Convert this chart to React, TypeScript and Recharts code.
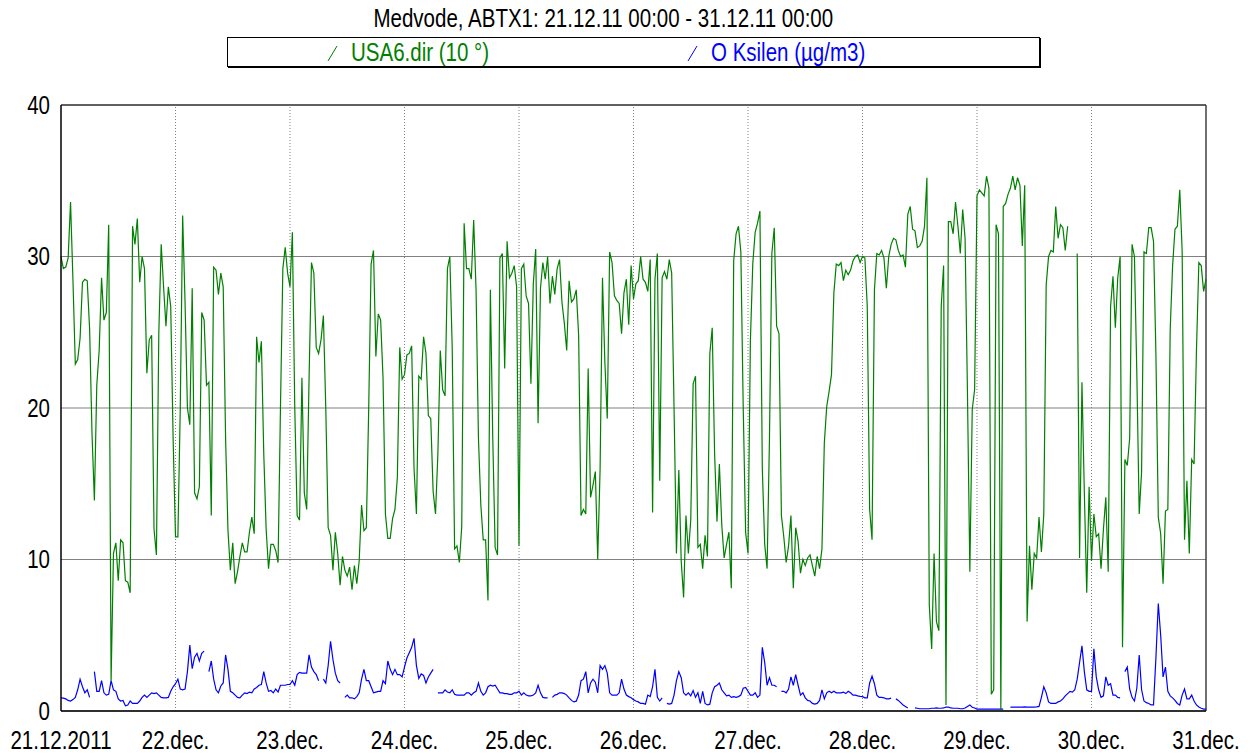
import { LineChart, Line, XAxis, YAxis, CartesianGrid, ReferenceLine, Legend } from "recharts";

const FONT = '"Liberation Sans", Arial, sans-serif';
// the reference uses a narrow face; squeeze a regular one instead
const SQUEEZE = 0.82;

const title = "Medvode, ABTX1: 21.12.11 00:00 - 31.12.11 00:00";
const dirName = "USA6.dir (10 °)";
const xylName = "O Ksilen (µg/m3)";

const dayLabels = ["21.12.2011", "22.dec.", "23.dec.", "24.dec.", "25.dec.", "26.dec.", "27.dec.", "28.dec.", "29.dec.", "30.dec.", "31.dec."];
const yTicks = [0, 10, 20, 30, 40];

// wind direction (10 deg units), half-hourly, one list per day
const dir21 = [30, 29.2, 29.3, 29.9, 33.6, 28.5, 22.9, 23.2, 24.6, 28.3, 28.5, 28.4, 25.2, 18.3, 13.9, 21.5, 23.8, 28.6, 25.8, 26.3, 32.1, 2, 10.4, 11.1, 8.6, 11.3, 11.1, 8.6, 8.5, 7.8, 32, 30.8, 32.5, 28.3, 30, 29.2, 22.3, 24.5, 24.8, 12, 10.3, 24.9, 30.8, 28, 25.4, 28, 26.7, 18];
const dir22 = [11.5, 11.5, 20, 32.7, 27, 20, 18.9, 27.9, 14.4, 14, 14.8, 26.3, 25.8, 21.5, 21.7, 12.9, 29.3, 29.1, 27.5, 28.9, 28, 18, 11.9, 9.3, 11.1, 8.4, 9.2, 10.2, 11.1, 10.5, 10.5, 11.8, 12.8, 11.7, 24.7, 23, 24.4, 17, 12, 9.4, 11, 11, 10.6, 9.8, 20, 29.2, 30.6, 28.9];
const dir23 = [28, 31.6, 20, 12.9, 12.6, 22, 14.4, 13.3, 22, 29.6, 28.9, 24, 23.6, 24.5, 26.1, 20, 12.1, 11.6, 9.3, 11.8, 10.4, 8.3, 10.2, 9.3, 8.9, 9.5, 8, 9.6, 8.4, 9.9, 13.6, 11.9, 12.1, 20, 29.5, 30.4, 23.4, 26.2, 25.8, 22, 13, 11.4, 11.4, 12.7, 13.3, 15.4, 24, 21.9];
const dir24 = [22.2, 23.5, 23.6, 24.1, 16, 13, 22.1, 21.9, 24.7, 23.6, 19.5, 19.3, 14.5, 13, 17, 23.8, 21.2, 20.8, 29.2, 30, 24, 10.7, 10.9, 9.8, 12.2, 32.2, 29.2, 29.2, 28.5, 32.4, 27.8, 18, 13.6, 11.3, 11.3, 7.3, 27.8, 18, 10.8, 10.3, 29.9, 30.2, 22.6, 31, 28.6, 28.9, 29.4, 28];
const dir25 = [10.9, 29.2, 29.5, 27.4, 26.9, 21.6, 28.2, 30.5, 19, 27.9, 29.6, 28.5, 30, 26.9, 28.7, 27.5, 29.2, 29.8, 27, 25.6, 23.8, 28.4, 27, 27.2, 27.8, 24.8, 12.9, 13.3, 13, 22.6, 14.1, 14.9, 15.8, 10, 16, 28.6, 23, 19.3, 30.3, 29.6, 27.4, 27.1, 26.9, 24.9, 27.6, 28.5, 25.5, 29.4];
const dir26 = [27.2, 28.2, 28.4, 30, 28.5, 28.3, 27.7, 29.8, 13.1, 28.5, 30.2, 15.2, 28.6, 29, 28.5, 29.8, 28.9, 20, 10.4, 15.9, 9.9, 7.5, 12.9, 10.4, 12.6, 21.6, 22.1, 10.8, 11, 9.4, 11.6, 10.2, 23.6, 25.3, 17, 12.5, 16.3, 12.3, 10.1, 11, 11.8, 8.1, 29.7, 31.5, 32, 30.3, 20, 11.8];
const dir27 = [10.4, 24.4, 29.5, 31.6, 32.2, 33, 16, 11, 9.4, 18, 30.2, 31.9, 25.4, 24.9, 12.9, 11.5, 9.8, 10.9, 12.9, 8.1, 12.1, 11.2, 9.1, 10, 9.6, 10.1, 10.3, 9.6, 8.9, 10.2, 9.4, 10.7, 17.7, 20.1, 21.1, 22.2, 27.6, 29.5, 29.4, 29.6, 28.4, 29.1, 28.8, 29.1, 29.7, 30, 30.1, 29.6];
const dir28 = [30, 29.9, 26.7, 13.3, 11.3, 27.8, 30.2, 30.1, 30.4, 29.9, 27.9, 30, 30.8, 31.2, 31.1, 30.4, 30, 30.1, 29.3, 32.8, 33.3, 31.8, 31.7, 30.6, 30.7, 31, 32, 35.2, 7, 4.1, 10.4, 5.9, 5.3, 26.7, 29.4, 0.4, 32.3, 32.3, 31.5, 33.6, 32, 30.2, 33.1, 31.2, 21, 9.2, 19.9, 21.2];
const dir29 = [34, 34.4, 34.2, 34, 35.3, 34.5, 1.1, 1.4, 32.1, 31.5, 0.1, 33.3, 33.5, 34.1, 34.5, 35.3, 34.4, 35.2, 34.7, 30.7, 34.7, 5.9, 10.9, 8, 10.4, 10.1, 12.8, 10.5, 13, 28.1, 30, 30.4, 30.3, 33.3, 31.2, 32.1, 31.9, 30.4, 32, null, null, null, 30.2, 10.1, 21.7, 14.4, 7.8, 14.8];
const dir30 = [9.9, 13, 11.5, 11.7, 9.4, 12, 14.1, 9.2, 26.7, 28.7, 25.3, 28.6, 30, 4.2, 16.6, 16.2, 18, 30.8, 30, 22.3, 13, 15.8, 30.3, 30.2, 31.9, 31.9, 31, 23.6, 12.8, 11.7, 8.4, 13.2, 13.3, 25.2, 29.4, 31.8, 32, 34.4, 30.4, 11.3, 15.2, 10.4, 16.6, 16.3, 23.8, 29.6, 29.4, 27.7, 28.5];

// xylene (ug/m3), half-hourly, one list per day
const xyl21 = [0.87, 0.85, 0.8, 0.7, 0.66, 0.75, 0.9, 1.4, 2.1, 1.6, 1.2, 1.4, 0.9, null, 2.6, 1.3, 1.3, 2, 1.2, 1.05, 1.1, 2, 1.4, 1.3, 0.8, 0.66, 0.7, 0.34, 0.4, 0.66, 0.5, 0.5, 0.5, 0.66, 0.9, 1.05, 0.9, 1.05, 1.2, 1.15, 1.2, 1.05, 0.9, 0.87, 0.87, 0.9, 1.3, 1.6];
const xyl22 = [1.8, 2.1, 1.45, 1.4, 1.45, 2.6, 4.35, 2.8, 3.55, 3.8, 3.3, 3.8, 3.95, null, 2.6, 3.3, 2.1, 1.4, 1.2, 1.65, 1.85, 3.7, 2.75, 1.3, 1.2, 1.05, 0.9, 0.87, 1.05, 1.2, 1.15, 1.25, 1.2, 1.45, 1.55, 1.7, 1.75, 2.6, 1.85, 1.3, 1.35, 1.2, 1.45, 1.25, 1.7, 1.7, 1.7, 1.75];
const xyl23 = [1.75, 2, 1.7, 2.4, 2.55, 2.5, 2.5, 2.5, 3.7, 2.9, 2.6, 2.4, 2, null, 2.1, 1.85, 3, 4.6, 3.4, 2.5, 2, 1.85, null, 0.9, 1.05, 0.87, 0.87, 0.8, 0.95, 1.2, 2.1, 2.75, 2, 2, 1.6, 1.2, 1.25, 1.3, 1.3, 2, 1.8, 3.3, 2.75, 2.4, 2.75, 2.4, 2.4, 2.25];
const xyl24 = [2.9, 3.5, 3.85, 4.2, 4.8, 3, 2.15, 2.45, 2.35, 1.85, 2.25, 2.5, 2.75, null, 1.2, 1.2, 1.2, 1.4, 1.25, 1.2, 1.4, 1.1, 1.05, 1.05, 1.05, 1.05, 1.2, 1.2, 1.05, 1.2, 1.3, 1.85, 1.3, 1.05, 1.2, 1.6, 1.7, 1.65, 1.7, 1.45, 1.2, 1.2, 1.15, 1.15, 1.1, 1.1, 1.2, 1.2];
const xyl25 = [1.3, 1.05, 1.2, 1.05, 1, 1, 1.05, 1.2, 1.7, 1.2, 0.9, 0.87, 0.87, null, 0.9, 1.05, 1.1, 1.2, 1.2, 1.15, 1.05, 0.87, 0.7, 0.6, 0.65, 1.05, 2, 2.1, 2.6, 1.2, 1.85, 2.1, 1.9, 1.2, 3, 2.75, 3, 2.5, 1.2, 1.05, 1.05, 1.05, 1.2, 2.1, 1.45, 1.05, 0.95, 0.87];
const xyl26 = [0.75, 0.66, 0.6, 0.5, 0.5, 0.45, 1.05, 0.95, 1.6, 2.75, 0.9, 0.66, 0.87, null, 0.5, 0.45, 0.5, 1.05, 2, 2.6, 2.2, 1.2, 1.05, 1.2, 1, 1.35, 0.9, 1.2, 0.5, 1.3, 0.5, 0.4, 0.45, 1.2, 1.6, 1.7, 1.85, 1.4, 1.2, 1, 1.05, 0.9, 0.95, 0.9, 0.95, 1.05, 1.5, 1.55];
const xyl27 = [1.3, 1.05, 1.05, 1.2, 0.9, 1.05, 4.2, 3.2, 1.7, 2.2, 1.7, 1.7, 1.6, null, 1.3, 1.3, 1.2, 1.45, 2.25, 1.7, 2.4, 1.7, 1.05, 1.2, 0.87, 0.7, 0.66, 0.5, 0.45, 0.5, 0.7, 1.4, 0.8, 1.2, 1.3, 1.2, 1.3, 1.2, 1.2, 1.2, 1.25, 1.15, 1.3, 1.2, 1.05, 1.05, 1, 0.97];
const xyl28 = [0.95, 0.87, 0.87, 1.85, 2.3, 1.8, 1.05, 0.9, 0.9, 0.87, 0.8, 0.8, 0.85, null, 0.8, 0.7, 0.55, 0.4, 0.3, 0.2, null, null, 0.2, 0.18, 0.15, 0.15, 0.15, 0.15, 0.15, 0.18, 0.18, 0.2, 0.18, 0.18, 0.2, 0.25, 0.25, 0.2, 0.18, 0.18, 0.18, 0.15, 0.15, 0.2, 0.3, 0.4, 0.25, 0.2];
const xyl29 = [0.13, 0.13, 0.12, 0.12, 0.13, 0.12, 0.12, 0.13, 0.12, 0.13, 0.12, 0.13, null, null, 0.26, 0.25, 0.26, 0.25, 0.26, 0.25, 0.27, 0.26, 0.25, 0.26, 0.25, 0.27, 0.3, 0.9, 1.6, 1.2, 0.6, 0.5, 0.5, 0.5, 0.6, 0.66, 0.8, 1, 1.15, 1.3, 1.25, 1.4, 2.1, 3.2, 4.3, 2.6, 1.4, 1.3];
const xyl30 = [1.3, 4.1, 2.25, 1.4, 0.9, 1, 2.25, 1.7, 1.8, 1.05, 1.05, 0.9, 0.87, null, 2.6, 2.9, 1.45, 0.9, 0.66, 1.5, 3.7, 1.4, 0.66, 0.55, 0.5, 0.4, 0.4, 3.5, 7.1, 5, 2.25, 2.9, 1.3, 1, 0.87, 0.7, 0.5, 0.4, 1.05, 1.45, 0.8, 0.8, 1.05, 0.66, 0.4, 0.26, 0.18, 0.13, 0.13];

const dirDays = [dir21, dir22, dir23, dir24, dir25, dir26, dir27, dir28, dir29, dir30];
const xylDays = [xyl21, xyl22, xyl23, xyl24, xyl25, xyl26, xyl27, xyl28, xyl29, xyl30];

// t = hours since 21.12. 00:00
const data: { t: number; dir: number | null; xyl: number | null }[] = [];
dirDays.forEach((day, d) => {
  day.forEach((v, i) => {
    data.push({ t: d * 24 + i / 2, dir: v, xyl: xylDays[d][i] ?? null });
  });
});

const xTicks = dayLabels.map((_, i) => i * 24);

// tick text squeezed horizontally around its anchor point
function NarrowTick(props: any) {
  const { x, y, payload, textAnchor, dy, formatter } = props;
  const label = formatter ? formatter(payload.value) : payload.value;
  return (
    <g transform={`translate(${x},${y})`}>
      <text transform={`scale(${SQUEEZE},1)`} textAnchor={textAnchor} dy={dy} fill="#000" fontSize={25}>
        {label}
      </text>
    </g>
  );
}

const xLabel = (v: number) => dayLabels[Math.round(v / 24)];

function Slash({ color }: { color: string }) {
  return (
    <svg width={11} height={17} style={{ position: "absolute", top: 7 }}>
      <line x1={1} y1={16} x2={10} y2={1} stroke={color} strokeWidth={1} />
    </svg>
  );
}

const squeezed = {
  display: "inline-block",
  transform: `scaleX(${SQUEEZE})`,
  whiteSpace: "nowrap" as const,
};

function renderLegend() {
  return (
    <div
      style={{
        position: "relative",
        width: 811,
        height: 28,
        border: "1px solid #000",
        boxShadow: "1px 1px 0 #000",
        background: "#fff",
        fontFamily: FONT,
        fontSize: 25,
        lineHeight: "28px",
      }}
    >
      <div style={{ position: "absolute", left: 99 }}>
        <Slash color="#008000" />
      </div>
      <span style={{ ...squeezed, position: "absolute", left: 123, color: "#008000", transformOrigin: "left center" }}>
        {dirName}
      </span>
      <div style={{ position: "absolute", left: 459 }}>
        <Slash color="#0000ff" />
      </div>
      <span style={{ ...squeezed, position: "absolute", left: 483, color: "#0000ff", transformOrigin: "left center" }}>
        {xylName}
      </span>
    </div>
  );
}

export default function App() {
  return (
    <div
      style={{
        position: "absolute",
        left: 0,
        top: 0,
        width: 1251,
        height: 754,
        background: "#fff",
        fontFamily: FONT,
      }}
    >
      <div
        style={{
          position: "absolute",
          left: 0,
          top: 4,
          width: 1206,
          textAlign: "center",
          fontSize: 25,
          lineHeight: "28px",
          color: "#000",
        }}
      >
        <span style={{ ...squeezed, transformOrigin: "center center" }}>{title}</span>
      </div>

      <LineChart
        width={1251}
        height={754}
        data={data}
        margin={{ top: 105, right: 45, bottom: 0, left: 11 }}
      >
        <CartesianGrid vertical={false} stroke="#808080" strokeWidth={1} />

        {xTicks.slice(1, -1).map((t) => (
          <ReferenceLine key={t} x={t} stroke="#808080" strokeDasharray="1 2" />
        ))}
        <ReferenceLine x={240} stroke="#404040" strokeWidth={1.5} />
        <ReferenceLine y={40} stroke="#404040" strokeWidth={1.5} />

        <XAxis
          dataKey="t"
          type="number"
          domain={[0, 240]}
          ticks={xTicks}
          interval={0}
          tickLine={false}
          tickSize={0}
          tickMargin={20}
          height={43}
          axisLine={{ stroke: "#000", strokeWidth: 1.5 }}
          tick={<NarrowTick dy="0.71em" formatter={xLabel} />}
        />
        <YAxis
          type="number"
          domain={[0, 40]}
          ticks={yTicks}
          width={50}
          tickLine={false}
          tickSize={0}
          tickMargin={11}
          axisLine={{ stroke: "#000", strokeWidth: 1.5 }}
          tick={<NarrowTick dy="0.355em" />}
        />

        <Legend
          content={renderLegend}
          layout="horizontal"
          verticalAlign="middle"
          align="center"
          wrapperStyle={{ left: 227, top: 37, width: 813, height: 30 }}
        />

        <Line
          type="linear"
          dataKey="xyl"
          stroke="#0000ff"
          strokeWidth={1.2}
          dot={false}
          activeDot={false}
          isAnimationActive={false}
        />
        <Line
          type="linear"
          dataKey="dir"
          stroke="#008000"
          strokeWidth={1.2}
          dot={false}
          activeDot={false}
          isAnimationActive={false}
        />
      </LineChart>
    </div>
  );
}
